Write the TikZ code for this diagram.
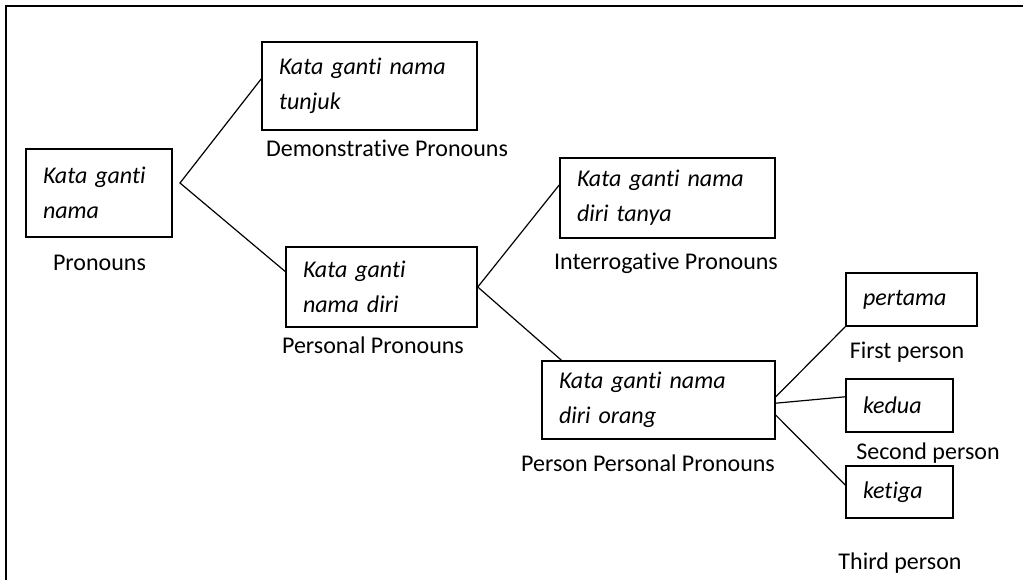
\documentclass[tikz,border=0pt]{standalone}
\usepackage{fontspec}
\setmainfont{Carlito}[Ligatures=NoCommon]
\usetikzlibrary{calc}
\tikzset{
  kotak/.style={draw, line width=0.75pt, rectangle, align=left, inner xsep=8.5pt, inner ysep=0pt,
    font=\itshape\fontsize{12}{17.5}\selectfont},
  ket/.style={inner sep=0pt, font=\fontsize{12}{14}\selectfont},
}
\begin{document}
\begin{tikzpicture}[x=0.5pt, y=-0.5pt, line width=0.6pt]
\useasboundingbox (0,0) rectangle (1023,580);
\draw[line width=1.1pt] (6,580)--(6,6)--(1023,6);

% kotak
\node[kotak, minimum width=73pt, minimum height=44pt, text width=56pt] (nama) at (99,193) {Kata ganti\\nama};
\node[kotak, minimum width=107.5pt, minimum height=44pt, text width=90.5pt] (tunjuk) at (369.5,86) {Kata ganti nama\\tunjuk};
\node[kotak, minimum width=95.5pt, minimum height=40pt, text width=78.5pt] (diri) at (381.5,287) {Kata ganti\\nama diri};
\node[kotak, minimum width=107.5pt, minimum height=40pt, text width=90.5pt] (tanya) at (667.5,198) {Kata ganti nama\\diri tanya};
\node[kotak, minimum width=116.5pt, minimum height=39pt, text width=99.5pt] (orang) at (658.5,400) {Kata ganti nama\\diri orang};
\node[kotak, minimum width=65.5pt, minimum height=26.5pt, text width=48.5pt] (pertama) at (911.5,299.5) {pertama};
\node[kotak, minimum width=53.5pt, minimum height=26.5pt, text width=36.5pt] (kedua) at (899.5,405.5) {kedua};
\node[kotak, minimum width=53.5pt, minimum height=26pt, text width=36.5pt] (ketiga) at (899.5,492) {ketiga};

% keterangan
\node[ket] (lnama) at (99.5,263) {Pronouns};
\node[ket] (ltunjuk) at (387,148) {Demonstrative Pronouns};
\node[ket] (ldiri) at (373,345) {Personal Pronouns};
\node[ket] (ltanya) at (666,263) {Interrogative Pronouns};
\node[ket] (lorang) at (648,463) {Person Personal Pronouns};
\node[ket] (lpertama) at (907,352) {First person};
\node[ket] (lkedua) at (928,453) {Second person};
\node[ket] (lketiga) at (900,563) {Third person};

% garis
\coordinate (cnama) at (180,183);
\draw ($(tunjuk.north west)!0.42!(tunjuk.south west)$) -- (cnama) -- ($(diri.north west)!0.31!(diri.south west)$);
\draw ($(tanya.north west)!0.34!(tanya.south west)$) -- (diri.east) -- ($(orang.north west)!0.086!(orang.north east)$);
\draw ($(orang.north east)!0.46!(orang.south east)$) -- (pertama.south west);
\draw ($(orang.north east)!0.54!(orang.south east)$) -- ($(kedua.north west)!0.34!(kedua.south west)$);
\draw ($(orang.north east)!0.69!(orang.south east)$) -- ($(ketiga.north west)!0.37!(ketiga.south west)$);
\end{tikzpicture}
\end{document}
